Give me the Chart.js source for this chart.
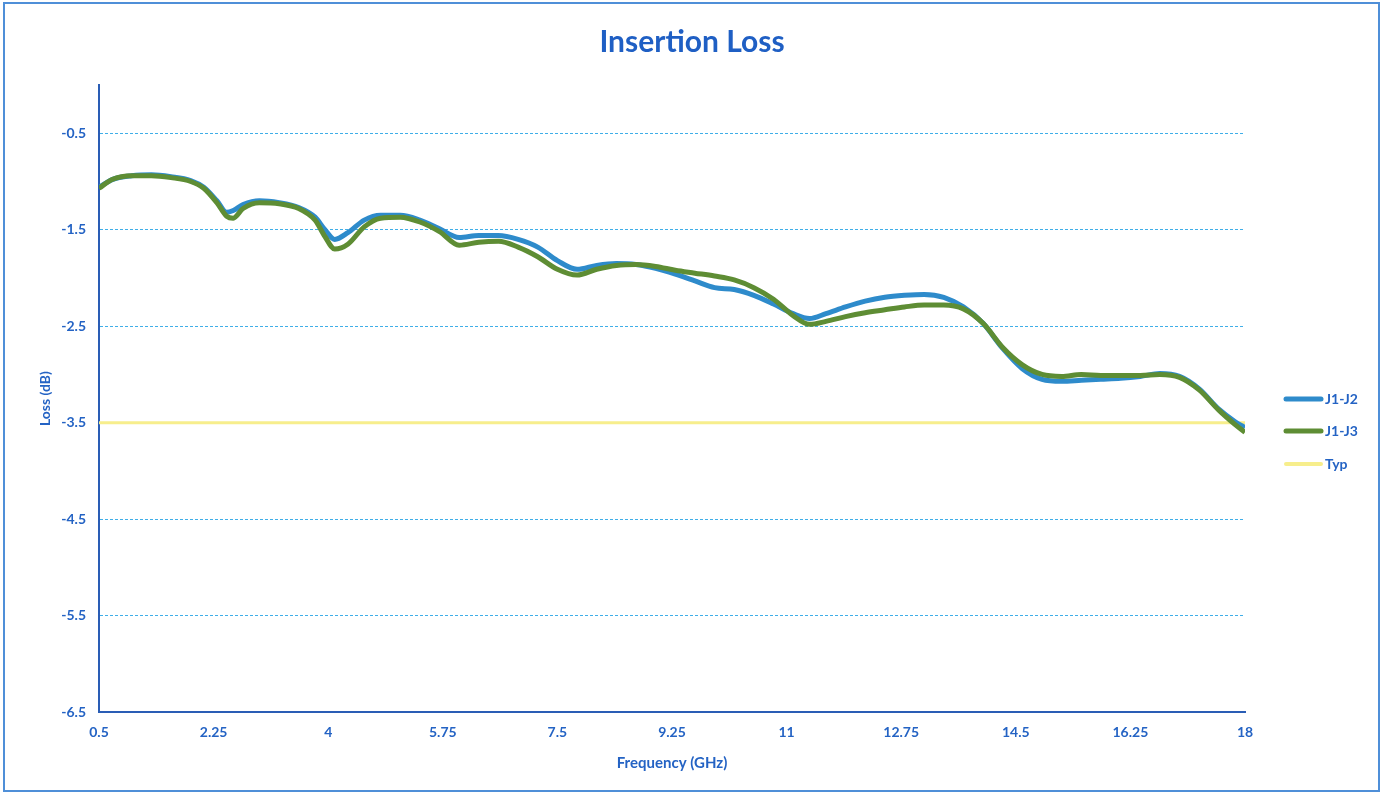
<!DOCTYPE html>
<html><head><meta charset="utf-8">
<script src="https://cdn.jsdelivr.net/npm/chart.js@4.4.1/dist/chart.umd.min.js"></script>
<style>html,body{margin:0;padding:0;background:#fff}#wrap{width:1383px;height:795px;position:relative}</style>
</head><body><div id="wrap"><canvas id="c" width="1383" height="795"></canvas></div>
<script>
const freq = [0.5,0.7,1.0,1.3,1.6,1.9,2.1,2.3,2.45,2.55,2.7,2.95,3.25,3.55,3.8,3.95,4.1,4.3,4.55,4.8,5.1,5.4,5.7,6.0,6.3,6.6,6.9,7.2,7.5,7.8,8.1,8.4,8.7,9.0,9.3,9.6,9.9,10.2,10.5,10.8,11.1,11.35,11.6,11.9,12.2,12.5,12.8,13.1,13.4,13.7,14.0,14.3,14.6,14.9,15.2,15.5,15.8,16.1,16.4,16.7,17.0,17.3,17.6,17.85,18.0];
const j1j2 = [-1.06,-0.98,-0.94,-0.93,-0.95,-0.99,-1.06,-1.2,-1.32,-1.3,-1.24,-1.2,-1.22,-1.27,-1.37,-1.5,-1.6,-1.53,-1.4,-1.35,-1.35,-1.4,-1.49,-1.58,-1.56,-1.56,-1.6,-1.68,-1.82,-1.91,-1.87,-1.85,-1.86,-1.9,-1.96,-2.03,-2.1,-2.12,-2.18,-2.27,-2.37,-2.42,-2.37,-2.3,-2.24,-2.2,-2.18,-2.17,-2.2,-2.3,-2.47,-2.73,-2.94,-3.05,-3.07,-3.06,-3.05,-3.04,-3.02,-2.99,-3.02,-3.15,-3.36,-3.49,-3.55];
const j1j3 = [-1.07,-0.98,-0.94,-0.94,-0.96,-1.0,-1.07,-1.22,-1.36,-1.38,-1.28,-1.22,-1.23,-1.28,-1.4,-1.57,-1.7,-1.65,-1.47,-1.38,-1.37,-1.42,-1.52,-1.66,-1.63,-1.62,-1.68,-1.78,-1.91,-1.97,-1.91,-1.87,-1.86,-1.88,-1.92,-1.95,-1.98,-2.02,-2.1,-2.22,-2.39,-2.48,-2.45,-2.4,-2.36,-2.33,-2.3,-2.28,-2.28,-2.32,-2.47,-2.72,-2.9,-3.0,-3.02,-3.0,-3.01,-3.01,-3.01,-3.0,-3.03,-3.16,-3.37,-3.52,-3.6];
const typFreq = [0.5, 18];
const typ = [-3.5, -3.5];
const xTicks = [0.5,2.25,4,5.75,7.5,9.25,11,12.75,14.5,16.25,18];
const yTicks = [-6.5,-5.5,-4.5,-3.5,-2.5,-1.5,-0.5];
const seriesNames = ['J1-J2','J1-J3','Typ'];
const chartTitle = 'Insertion Loss';

const BLUE_TXT = '#2463C4';
const FONT = 'Lato, "Open Sans", sans-serif';
const pts = (xs, ys) => xs.map((x,i)=>({x:x, y:ys[i]}));

const frame = {
  id:'frame',
  afterDraw(chart){
    const ctx = chart.ctx;
    ctx.save();
    ctx.strokeStyle = '#4F8FD8';
    ctx.lineWidth = 2;
    ctx.strokeRect(4,3,1375,788);
    ctx.fillStyle = '#1F5FC4';
    ctx.font = 'bold 30px ' + FONT;
    ctx.textAlign = 'center';
    ctx.textBaseline = 'middle';
    ctx.fillText(chartTitle, 692, 42);
    const ds = chart.data.datasets;
    const ys = [399,431,464];
    seriesNames.forEach((name,k)=>{
      const d = ds.find(q=>q.label===name);
      ctx.strokeStyle = d.borderColor;
      ctx.lineWidth = name==='Typ' ? 4 : 5;
      ctx.lineCap = 'round';
      ctx.beginPath(); ctx.moveTo(1286, ys[k]); ctx.lineTo(1321, ys[k]); ctx.stroke();
      ctx.fillStyle = BLUE_TXT;
      ctx.font = 'bold 14px ' + FONT;
      ctx.textBaseline = 'middle';
      ctx.textAlign = 'left';
      ctx.fillText(d.label, 1325, ys[k]);
    });
    ctx.restore();
  }
};

new Chart(document.getElementById('c'), {
  type:'line',
  data:{datasets:[
    {label:'Typ', data:pts(typFreq,typ), borderColor:'#F7EE8C', borderWidth:3, pointRadius:0, tension:0, order:3},
    {label:'J1-J2', data:pts(freq,j1j2), borderColor:'#2E8BCB', borderWidth:5, pointRadius:0, tension:0.4, cubicInterpolationMode:'monotone', order:2},
    {label:'J1-J3', data:pts(freq,j1j3), borderColor:'#5E8D34', borderWidth:5, pointRadius:0, tension:0.4, cubicInterpolationMode:'monotone', order:1}
  ]},
  plugins:[frame],
  options:{
    responsive:false, animation:false,
    layout:{padding:{left:33, right:138, top:85, bottom:19}},
    plugins:{
      legend:{display:false},
      tooltip:{enabled:false},
      title:{display:false}
    },
    scales:{
      x:{type:'linear', min:0.5, max:18,
        afterBuildTicks(s){ s.ticks = xTicks.map(v=>({value:v})); },
        ticks:{color:BLUE_TXT, font:{family:FONT, size:14, weight:'bold'}, padding:12, maxRotation:0, autoSkip:false, callback:v=>String(v)},
        grid:{display:false, drawTicks:false},
        border:{display:true, color:'#2A5DB5', width:2},
        title:{display:true, text:'Frequency (GHz)', color:BLUE_TXT, font:{family:FONT, size:15, weight:'bold'}, padding:{top:1}}
      },
      y:{type:'linear', min:-6.5, max:0,
        afterBuildTicks(s){ s.ticks = yTicks.map(v=>({value:v})); },
        afterFit(s){ s.width = 66; },
        ticks:{color:BLUE_TXT, font:{family:FONT, size:14, weight:'bold'}, padding:13, callback:v=>String(v)},
        grid:{drawTicks:false, color:(c)=> c.tick && c.tick.value===-6.5 ? 'rgba(0,0,0,0)' : '#3FAEE8', lineWidth:1},
        border:{display:true, color:'#2A5DB5', width:2, dash:[3,2]},
        title:{display:true, text:'Loss (dB)', color:BLUE_TXT, font:{family:FONT, size:14, weight:'bold'}, padding:{bottom:2}}
      }
    }
  }
});
</script></body></html>
